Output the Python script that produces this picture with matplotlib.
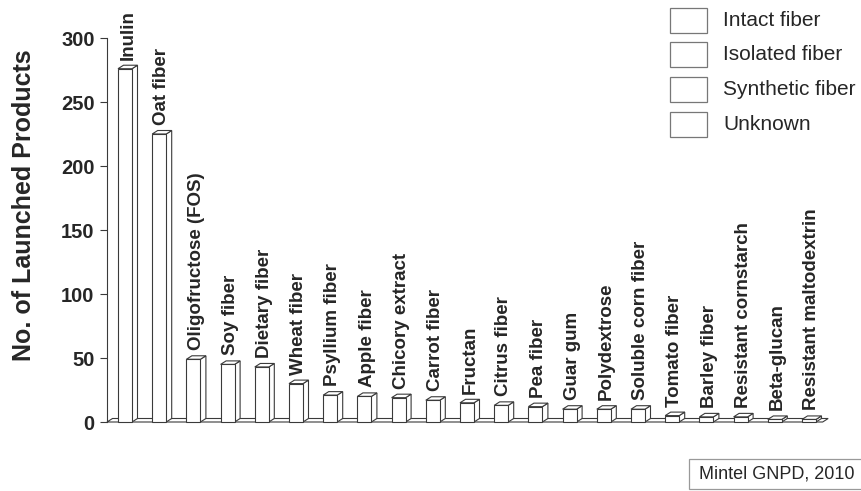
import matplotlib
matplotlib.use("Agg")
import matplotlib.pyplot as plt
from matplotlib.patches import Polygon, Rectangle

categories = ["Inulin", "Oat fiber", "Oligofructose (FOS)", "Soy fiber", "Dietary fiber",
              "Wheat fiber", "Psyllium fiber", "Apple fiber", "Chicory extract", "Carrot fiber",
              "Fructan", "Citrus fiber", "Pea fiber", "Guar gum", "Polydextrose",
              "Soluble corn fiber", "Tomato fiber", "Barley fiber", "Resistant cornstarch",
              "Beta-glucan", "Resistant maltodextrin"]
values = [276, 225, 49, 45, 43, 30, 21, 20, 19, 17, 15, 13, 12, 10, 10, 10, 5, 4, 4, 2, 2]
yticks = [0, 50, 100, 150, 200, 250, 300]
legend_labels = ["Intact fiber", "Isolated fiber", "Synthetic fiber", "Unknown"]
source_text = "Mintel GNPD, 2010"

plt.rcParams['font.family'] = ['Liberation Sans', 'DejaVu Sans']
TXT = '#262626'
EDGE = '#3a3a3a'

W, H = 861, 491
fig = plt.figure(figsize=(W / 100, H / 100), dpi=100)

# axes geometry in pixels
ax_left, ax_right, ax_top, ax_bottom = 107, 845, 38, 422
ax = fig.add_axes([ax_left / W, (H - ax_bottom) / H, (ax_right - ax_left) / W, (ax_bottom - ax_top) / H])

step_px = 34.2
x0_px = 125
xmin = (ax_left - x0_px) / step_px
xmax = (ax_right - x0_px) / step_px
ax.set_xlim(xmin, xmax)
ax.set_ylim(0, 300)

bw = 14 / step_px
dx = 5.5 / step_px
dy = 3.5 * 300 / (ax_bottom - ax_top)

# floor
x_end = len(categories) - 0.6
floor = Polygon([(xmin, 0), (x_end, 0), (x_end + dx, dy), (xmin + dx, dy)], closed=True,
                facecolor='white', edgecolor=EDGE, lw=0.8, zorder=1, clip_on=False)
ax.add_patch(floor)

for i, (c, v) in enumerate(zip(categories, values)):
    l, r = i - bw / 2, i + bw / 2
    front = Polygon([(l, 0), (r, 0), (r, v), (l, v)], closed=True, facecolor='white',
                    edgecolor=EDGE, lw=0.8, zorder=3, clip_on=False)
    side = Polygon([(r, 0), (r + dx, dy), (r + dx, v + dy), (r, v)], closed=True, facecolor='white',
                   edgecolor=EDGE, lw=0.8, zorder=2, clip_on=False)
    top = Polygon([(l, v), (r, v), (r + dx, v + dy), (l + dx, v + dy)], closed=True, facecolor='white',
                  edgecolor=EDGE, lw=0.8, zorder=2, clip_on=False)
    ax.add_patch(side)
    ax.add_patch(top)
    ax.add_patch(front)
    ax.annotate(c, xy=(i + dx / 2, v + dy), xytext=(0, 4), textcoords='offset points',
                rotation=90, ha='center', va='bottom', fontsize=13.5, fontweight='bold',
                color=TXT, annotation_clip=False)

for s in ['top', 'right', 'bottom']:
    ax.spines[s].set_visible(False)
ax.spines['left'].set_color(EDGE)
ax.spines['left'].set_linewidth(0.8)
ax.set_xticks([])
ax.set_yticks(yticks)
ax.tick_params(axis='y', direction='out', length=5, width=0.8, color=EDGE, pad=4,
               labelsize=14.5, labelcolor=TXT)
for t in ax.get_yticklabels():
    t.set_fontweight('bold')
ax.patch.set_visible(False)

fig.text(24 / W, 1 - 205 / H, "No. of Launched Products", rotation=90, ha='center', va='center',
         fontsize=18, fontweight='bold', color=TXT)

# legend
box_tops = [8, 42, 77, 112]
for lab, yt in zip(legend_labels, box_tops):
    fig.add_artist(Rectangle((670 / W, 1 - (yt + 25) / H), 37 / W, 25 / H, transform=fig.transFigure,
                             facecolor='white', edgecolor='#777777', lw=0.9))
    fig.text(723 / W, 1 - (yt + 12.5) / H, lab, ha='left', va='center', fontsize=15, color=TXT)

# source box
fig.add_artist(Rectangle((689 / W, 1 - 489 / H), 180 / W, 30 / H, transform=fig.transFigure,
                         facecolor='white', edgecolor='#999999', lw=0.9))
fig.text(699 / W, 1 - 474 / H, source_text, ha='left', va='center', fontsize=13, color=TXT)

fig.savefig("out.png", dpi=100)
